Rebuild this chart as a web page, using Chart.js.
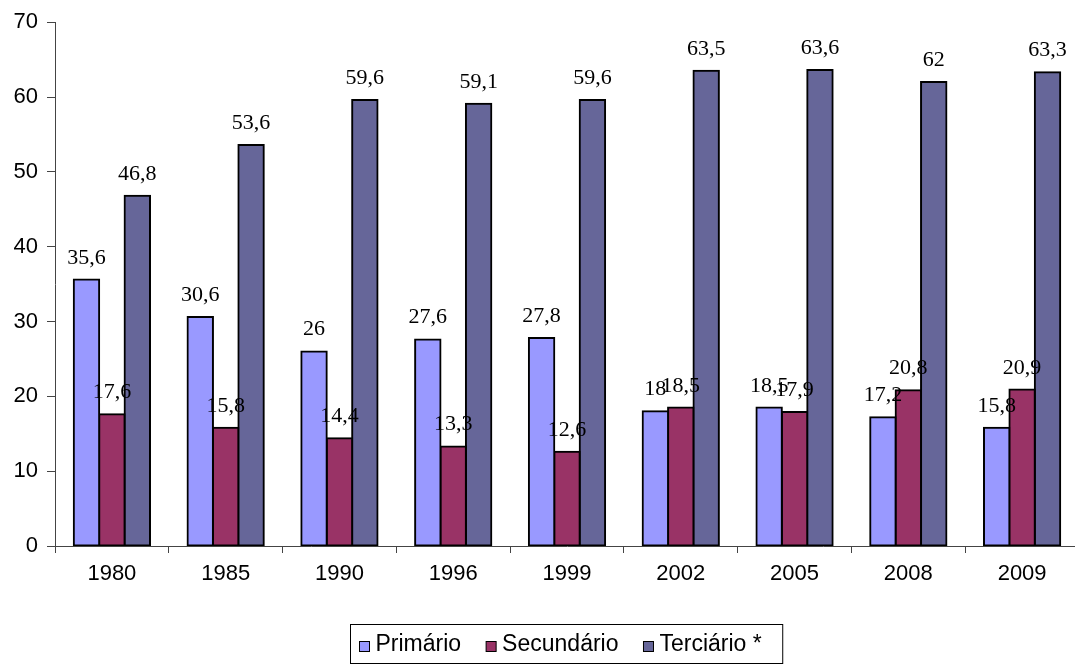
<!DOCTYPE html>
<html>
<head>
<meta charset="utf-8">
<script src="https://cdn.jsdelivr.net/npm/chart.js@4/dist/chart.umd.min.js"></script>
<style>
  html, body { margin: 0; padding: 0; background: #fff; overflow: hidden; }
  #wrap { width: 1080px; height: 664px; }
</style>
</head>
<body>
<div id="wrap"><canvas id="c" width="1080" height="664"></canvas></div>
<script>
// Distribuição percentual por setor de atividade
const anos = ['1980', '1985', '1990', '1996', '1999', '2002', '2005', '2008', '2009'];
const primario = [35.6, 30.6, 26, 27.6, 27.8, 18, 18.5, 17.2, 15.8];
const secundario = [17.6, 15.8, 14.4, 13.3, 12.6, 18.5, 17.9, 20.8, 20.9];
const terciario = [46.8, 53.6, 59.6, 59.1, 59.6, 63.5, 63.6, 62, 63.3];
const nomesSeries = ['Primário', 'Secundário', 'Terciário *'];
const coresSeries = ['#9999FF', '#993366', '#666699'];
const yTicks = [0, 10, 20, 30, 40, 50, 60, 70];

const sansFont = '"Liberation Sans", Arial, sans-serif';
const serifFont = '"Liberation Serif", "Times New Roman", serif';

const formatar = v => String(v).replace('.', ',');

// Value labels above each bar
const rotulosValores = {
  id: 'rotulosValores',
  afterDatasetsDraw(chart) {
    const ctx = chart.ctx;
    ctx.save();
    ctx.font = '22px ' + serifFont;
    ctx.fillStyle = '#000';
    ctx.textAlign = 'center';
    ctx.textBaseline = 'alphabetic';
    chart.data.datasets.forEach((ds, i) => {
      const meta = chart.getDatasetMeta(i);
      meta.data.forEach((bar, j) => {
        ctx.fillText(formatar(ds.data[j]), bar.x, bar.y - 16);
      });
    });
    ctx.restore();
  }
};

// Boxed legend under the axis
const legendaCaixa = {
  id: 'legendaCaixa',
  afterDraw(chart) {
    const ctx = chart.ctx;
    const area = chart.chartArea;
    ctx.save();
    ctx.font = '23px ' + sansFont;
    const marcador = 10, gapMarc = 6, gapItem = 25, padL = 9, padR = 21;
    const itens = chart.data.datasets.map(ds => ({
      label: ds.label, cor: ds.backgroundColor, w: ctx.measureText(ds.label).width
    }));
    let largura = padL + padR + gapItem * (itens.length - 1);
    itens.forEach(it => { largura += marcador + gapMarc + it.w; });
    const cx = (area.left + area.right) / 2 - 1;
    const x0 = Math.round(cx - largura / 2) + 0.5;
    const topo = 624.5, alt = 39;
    ctx.strokeStyle = '#000';
    ctx.lineWidth = 1;
    ctx.strokeRect(x0, topo, largura, alt);
    let x = x0 + padL;
    const base = topo + 26;
    itens.forEach(it => {
      ctx.fillStyle = it.cor;
      ctx.fillRect(x, base - 9, marcador, marcador);
      ctx.strokeStyle = '#000';
      ctx.lineWidth = 1;
      ctx.strokeRect(x, base - 9, marcador, marcador);
      x += marcador + gapMarc;
      ctx.fillStyle = '#000';
      ctx.textBaseline = 'alphabetic';
      ctx.fillText(it.label, x, base);
      x += it.w + gapItem;
    });
    ctx.restore();
  }
};

const series = [primario, secundario, terciario];

new Chart(document.getElementById('c'), {
  type: 'bar',
  data: {
    labels: anos,
    datasets: series.map((d, i) => ({
      label: nomesSeries[i],
      data: d,
      backgroundColor: coresSeries[i],
      borderColor: '#000',
      borderWidth: 2,
      borderSkipped: false,
      inflateAmount: 1,
      categoryPercentage: 0.67,
      barPercentage: 1.0
    }))
  },
  options: {
    responsive: false,
    animation: false,
    devicePixelRatio: 1,
    layout: { padding: { top: 21, left: 0, right: 1, bottom: 39 } },
    plugins: {
      legend: { display: false },
      tooltip: { enabled: false }
    },
    scales: {
      x: {
        grid: {
          offset: true,
          drawOnChartArea: false,
          drawTicks: true,
          tickLength: 7,
          color: '#444'
        },
        border: { color: '#444', width: 1 },
        ticks: {
          color: '#000',
          font: { family: sansFont, size: 22 },
          padding: 8,
          maxRotation: 0
        },
        afterFit(scale) { scale.height = 79; }
      },
      y: {
        min: 0,
        max: 70,
        afterBuildTicks(scale) { scale.ticks = yTicks.map(v => ({ value: v })); },
        grid: {
          drawOnChartArea: false,
          drawTicks: true,
          tickLength: 8,
          color: '#444'
        },
        border: { color: '#444', width: 1 },
        ticks: {
          color: '#000',
          font: { family: sansFont, size: 22 },
          padding: 9
        },
        afterFit(scale) { scale.width = 55; }
      }
    }
  },
  plugins: [rotulosValores, legendaCaixa]
});
</script>
</body>
</html>
